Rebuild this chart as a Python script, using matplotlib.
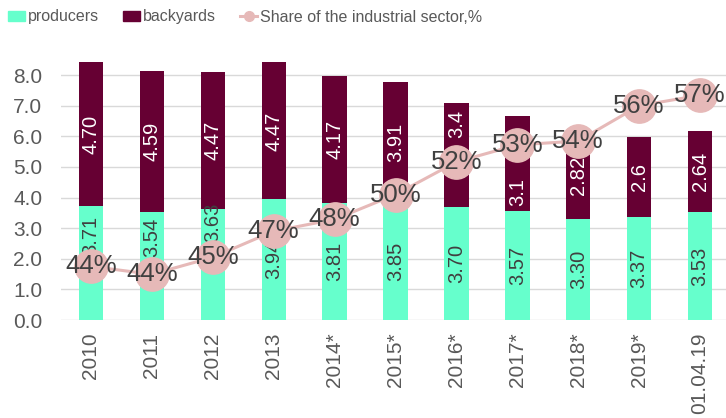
import numpy as np
import matplotlib
matplotlib.use("Agg")
import matplotlib.pyplot as plt
from matplotlib.lines import Line2D
from matplotlib.patches import Patch

plt.rcParams['font.family'] = ['Liberation Sans', 'DejaVu Sans']

years = ['2010', '2011', '2012', '2013', '2014*', '2015*', '2016*', '2017*',
         '2018*', '2019*', '01.04.19']
producers = [3.71, 3.54, 3.63, 3.94, 3.81, 3.85, 3.70, 3.57, 3.30, 3.37, 3.53]
backyards = [4.70, 4.59, 4.47, 4.47, 4.17, 3.91, 3.4, 3.1, 2.82, 2.6, 2.64]
backyard_labels = ['4.70', '4.59', '4.47', '4.47', '4.17', '3.91', '3.4', '3.1',
                   '2.82', '2.6', '2.64']
share = [44.1, 43.5, 44.8, 46.8, 47.7, 49.6, 52.1, 53.4, 53.7, 56.4, 57.2]
share_labels = ['44%', '44%', '45%', '47%', '48%', '50%', '52%', '53%', '54%',
                '56%', '57%']

c_prod = '#66FFCC'
c_back = '#660033'
c_line = '#E6B9B8'
c_text = '#595959'
c_lab = '#404040'

fig = plt.figure(figsize=(7.26, 4.18), dpi=100)
ax = fig.add_axes([60.5 / 726, 98 / 418, 670 / 726, 275.6 / 418])

x = np.arange(len(years))
w = 0.40
ax.bar(x, producers, w, color=c_prod, zorder=2)
ax.bar(x, backyards, w, bottom=producers, color=c_back, zorder=2)

ax.set_xlim(-0.5, len(years) - 0.5)
ax.set_ylim(0, 9)
ax.set_yticks(np.arange(0, 8.1, 1.0))
ax.set_yticklabels([f'{v:.1f}' for v in np.arange(0, 8.1, 1.0)])
ax.set_xticks(x)
ax.set_xticklabels(years, rotation=90)
ax.grid(axis='y', color='#D9D9D9', lw=1)
ax.set_axisbelow(True)
for s in ax.spines.values():
    s.set_visible(False)
ax.tick_params(axis='y', length=0, pad=13, labelsize=15, labelcolor=c_text)
ax.tick_params(axis='x', length=0, pad=9, labelsize=15, labelcolor=c_text)

# labels inside bars (first three sit near the top of the segment)
top_off = {0: -0.3, 1: -0.2, 2: 0.2}
for i, p in enumerate(producers):
    if i in top_off:
        ax.text(i, p + top_off[i], f'{p:.2f}', rotation=90, ha='center', va='top',
                fontsize=14.5, color=c_lab, zorder=3)
    else:
        ax.text(i, p / 2, f'{p:.2f}', rotation=90, ha='center', va='center',
                fontsize=14.5, color=c_lab, zorder=3)

shift = {6: 1.0, 7: -0.95}
for i, (p, b) in enumerate(zip(producers, backyards)):
    ax.text(i, p + b / 2 + shift.get(i, 0), backyard_labels[i], rotation=90,
            ha='center', va='center', fontsize=14.5, color='white', zorder=3)

# share line on hidden secondary axis
ax2 = ax.twinx()
ax2.set_ylim(40, 40 + 9 / 0.4267)
ax2.axis('off')
ax2.plot(x, share, color=c_line, lw=2.2, marker='o', ms=24, zorder=4)
for i, s in enumerate(share):
    ax2.text(i, s, share_labels[i], ha='center', va='center', fontsize=18.5,
             color=c_lab, zorder=5)

handles = [Patch(color=c_prod), Patch(color=c_back),
           Line2D([], [], color=c_line, lw=2.2, marker='o', ms=7)]
fig.legend(handles, ['producers', 'backyards', 'Share of the industrial sector,%'],
           loc='center left', bbox_to_anchor=(8 / 726, 1 - 17 / 418), ncol=3,
           frameon=False, labelcolor=c_text, fontsize=11.5, handlelength=1.06,
           handleheight=0.65, handletextpad=0.2, columnspacing=1.5,
           borderaxespad=0, borderpad=0)

fig.savefig('out.png', dpi=100)
